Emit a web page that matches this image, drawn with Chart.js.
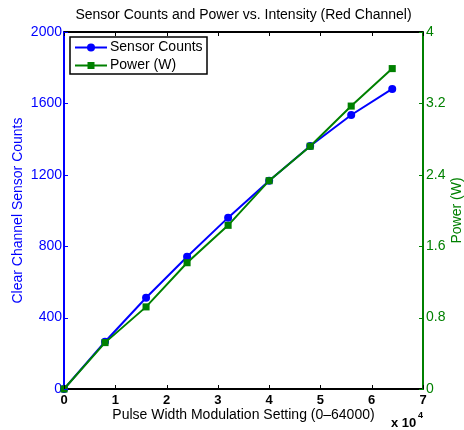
<!DOCTYPE html>
<html>
<head>
<meta charset="utf-8">
<script src="https://cdn.jsdelivr.net/npm/chart.js@4"></script>
<style>
  html, body { margin: 0; padding: 0; background: #fff; }
  canvas { display: block; }
</style>
</head>
<body>
<canvas id="sensorChart" width="464" height="430"></canvas>
<script>
// PWM settings and the two measured series
const pwmSetting = [0, 8000, 16000, 24000, 32000, 40000, 48000, 56000, 64000];
const sensorCounts = [0, 265, 511, 741, 960, 1167, 1361, 1535, 1681];
const powerWatts = [0, 0.52, 0.92, 1.415, 1.834, 2.334, 2.72, 3.17, 3.59];

const BLUE = '#0000ff';
const GREEN = '#008000';
const FONT = '"Liberation Sans", Arial, Helvetica, sans-serif';

// Title, legend, inward tick marks, top border and the exponent label
const extrasPlugin = {
    id: 'extras',
    afterDraw(chart) {
        const c = chart.ctx;
        const a = chart.chartArea;
        const xs = chart.scales.x;
        const yl = chart.scales.y;
        const yr = chart.scales.y1;

        c.save();
        // top border
        c.strokeStyle = '#000';
        c.lineWidth = 2;
        c.beginPath();
        c.moveTo(a.left, a.top);
        c.lineTo(a.right, a.top);
        c.stroke();

        // inward ticks
        c.lineWidth = 1;
        xs.ticks.forEach(t => {
            const px = Math.round(xs.getPixelForValue(t.value)) + 0.5;
            c.beginPath();
            c.moveTo(px, a.bottom); c.lineTo(px, a.bottom - 4);
            c.moveTo(px, a.top); c.lineTo(px, a.top + 4);
            c.stroke();
        });
        c.strokeStyle = BLUE;
        yl.ticks.forEach(t => {
            const py = Math.round(yl.getPixelForValue(t.value)) + 0.5;
            c.beginPath();
            c.moveTo(a.left, py); c.lineTo(a.left + 4, py);
            c.stroke();
        });
        c.strokeStyle = GREEN;
        yr.ticks.forEach(t => {
            const py = Math.round(yr.getPixelForValue(t.value)) + 0.5;
            c.beginPath();
            c.moveTo(a.right, py); c.lineTo(a.right - 4, py);
            c.stroke();
        });

        // chart title
        c.fillStyle = '#000';
        c.font = '14px ' + FONT;
        c.textAlign = 'center';
        c.textBaseline = 'middle';
        c.fillText('Sensor Counts and Power vs. Intensity (Red Channel)', (a.left + a.right) / 2, 15);

        // x 10^4
        c.font = 'bold 13px ' + FONT;
        c.textAlign = 'left';
        c.fillText('x 10', 391, 423);
        c.font = 'bold 9px ' + FONT;
        c.fillText('4', 418, 416);

        // right axis title, reading bottom to top
        c.save();
        c.translate(457, (a.top + a.bottom) / 2);
        c.rotate(-Math.PI / 2);
        c.fillStyle = GREEN;
        c.font = '14px ' + FONT;
        c.textAlign = 'center';
        c.fillText('Power (W)', 0, 0);
        c.restore();

        // legend box
        const lx = 70, ly = 37, lw = 137, lh = 37;
        c.fillStyle = '#fff';
        c.fillRect(lx, ly, lw, lh);
        c.strokeStyle = '#000';
        c.lineWidth = 1.5;
        c.strokeRect(lx, ly, lw, lh);
        const rows = [
            { label: 'Sensor Counts', color: BLUE, y: 47.5, shape: 'circle' },
            { label: 'Power (W)', color: GREEN, y: 65.5, shape: 'rect' }
        ];
        rows.forEach(r => {
            c.strokeStyle = r.color;
            c.fillStyle = r.color;
            c.lineWidth = 2;
            c.beginPath();
            c.moveTo(75, r.y); c.lineTo(107, r.y);
            c.stroke();
            if (r.shape === 'circle') {
                c.beginPath();
                c.arc(91, r.y, 4, 0, Math.PI * 2);
                c.fill();
            } else {
                c.fillRect(87.5, r.y - 3.5, 7, 7);
            }
            c.fillStyle = '#000';
            c.font = '14px ' + FONT;
            c.textAlign = 'left';
            c.textBaseline = 'middle';
            c.fillText(r.label, 110, r.y);
        });
        c.restore();
    }
};

const ctx = document.getElementById('sensorChart').getContext('2d');

const chart = new Chart(ctx, {
    type: 'line',
    data: {
        labels: pwmSetting,
        datasets: [
            {
                label: 'Sensor Counts',
                data: pwmSetting.map((x, i) => ({ x: x, y: sensorCounts[i] })),
                yAxisID: 'y',
                borderColor: BLUE,
                backgroundColor: BLUE,
                borderWidth: 2,
                pointStyle: 'circle',
                pointRadius: 4,
                pointBorderWidth: 0,
                tension: 0,
                clip: false,
                order: 1
            },
            {
                label: 'Power (W)',
                data: pwmSetting.map((x, i) => ({ x: x, y: powerWatts[i] })),
                yAxisID: 'y1',
                borderColor: GREEN,
                backgroundColor: GREEN,
                borderWidth: 2,
                pointStyle: 'rect',
                pointRadius: 5,
                pointBorderWidth: 0,
                tension: 0,
                clip: false,
                order: 0
            }
        ]
    },
    options: {
        responsive: false,
        animation: false,
        layout: { padding: { top: 32, left: 0, right: 0, bottom: 0 } },
        plugins: {
            legend: { display: false },
            title: { display: false },
            tooltip: { enabled: false }
        },
        scales: {
            x: {
                type: 'linear',
                min: 0,
                max: 70000,
                ticks: {
                    stepSize: 10000,
                    padding: 4,
                    color: '#000',
                    font: { family: FONT, size: 13, weight: 'bold' },
                    maxRotation: 0,
                    callback: v => v / 10000
                },
                grid: { display: true, drawOnChartArea: false, drawTicks: false },
                border: { display: true, color: '#000', width: 2 },
                title: {
                    display: true,
                    text: 'Pulse Width Modulation Setting (0\u201364000)',
                    color: '#000',
                    font: { family: FONT, size: 14 },
                    padding: { top: 0, bottom: 6 }
                },
                afterFit: s => { s.height = 41; }
            },
            y: {
                type: 'linear',
                position: 'left',
                min: 0,
                max: 2000,
                ticks: {
                    stepSize: 400,
                    padding: 2,
                    color: BLUE,
                    font: { family: FONT, size: 14 },
                    callback: v => String(v)
                },
                grid: { display: true, drawOnChartArea: false, drawTicks: false },
                border: { display: true, color: BLUE, width: 2 },
                title: {
                    display: true,
                    text: 'Clear Channel Sensor Counts',
                    color: BLUE,
                    font: { family: FONT, size: 14 },
                    padding: { top: 10, bottom: 0 }
                },
                afterFit: s => { s.width = 64; }
            },
            y1: {
                type: 'linear',
                position: 'right',
                min: 0,
                max: 4,
                ticks: {
                    stepSize: 0.8,
                    padding: 3,
                    color: GREEN,
                    font: { family: FONT, size: 14 },
                    callback: v => String(+v.toFixed(1))
                },
                grid: { display: true, drawOnChartArea: false, drawTicks: false },
                border: { display: true, color: GREEN, width: 2 },
                afterFit: s => { s.width = 41; }
            }
        }
    },
    plugins: [extrasPlugin]
});
</script>
</body>
</html>
